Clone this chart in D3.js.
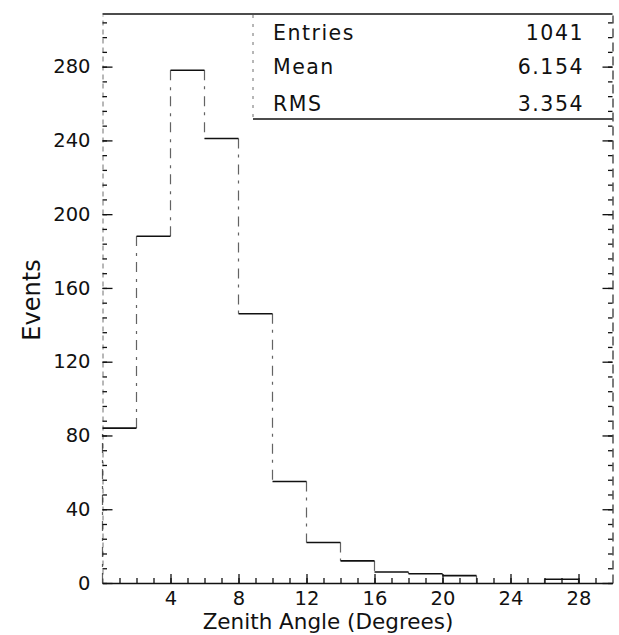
<!DOCTYPE html>
<html>
<head>
<meta charset="utf-8">
<script src="https://cdn.jsdelivr.net/npm/d3@7"></script>
<style>
  body { margin: 0; background: #fff; }
  svg { display: block; }
</style>
</head>
<body>
<svg id="chart" width="619" height="635"></svg>
<script>
// Zenith angle histogram: 2-degree bins from 0 to 30 degrees
const binEdges = [0, 2, 4, 6, 8, 10, 12, 14, 16, 18, 20, 22, 24, 26, 28, 30];
const counts   = [84, 188, 278, 241, 146, 55, 22, 12, 6, 5, 4, 0, 0, 2, 0];

const yMajorTicks = [0, 40, 80, 120, 160, 200, 240, 280];
const xMajorTicks = [4, 8, 12, 16, 20, 24, 28];

const statLabels = ["Entries", "Mean", "RMS"];
const statValues = ["1041", "6.154", "3.354"];

const xTitle = "Zenith Angle (Degrees)";
const yTitle = "Events";

const FONT = "DejaVu Sans, sans-serif";
const INK = "#111";

const svg = d3.select("#chart");

const x = d3.scaleLinear().domain([0, 30]).range([102.5, 612.5]);
const y = d3.scaleLinear().domain([0, 308]).range([583, 15]);

const [x0, x1] = x.range();
const [yB, yT] = y.range();

// minor tick positions derived from the axis domains
const yMinor = d3.range(0, 308, 8);
const xMinor = d3.range(1, 30, 1);

function styleAxis(g, size) {
  g.selectAll(".tick line").attr("stroke", INK).attr("stroke-width", 1.3);
  g.selectAll("text").attr("fill", INK).attr("font-family", FONT).attr("font-size", size || 19);
}

// left axis: inward ticks, labels
const leftMinor = svg.append("g").attr("transform", `translate(${x0},0)`)
  .call(d3.axisLeft(y).tickValues(yMinor).tickSize(-4.5).tickFormat(""));
leftMinor.select(".domain").remove();
styleAxis(leftMinor);

const left = svg.append("g").attr("transform", `translate(${x0},0)`)
  .call(d3.axisLeft(y).tickValues(yMajorTicks).tickSizeInner(-10).tickSizeOuter(0).tickPadding(12));
left.select(".domain").attr("stroke", INK).attr("stroke-width", 1).attr("stroke-dasharray", "5,4").attr("opacity", 0.6);
styleAxis(left, 19.5);

// right axis: inward ticks, no labels
const rightMinor = svg.append("g").attr("transform", `translate(${x1},0)`)
  .call(d3.axisRight(y).tickValues(yMinor).tickSize(-4.5).tickFormat(""));
rightMinor.select(".domain").remove();
styleAxis(rightMinor);

const right = svg.append("g").attr("transform", `translate(${x1},0)`)
  .call(d3.axisRight(y).tickValues(yMajorTicks).tickSizeInner(-10).tickSizeOuter(0).tickFormat(""));
right.select(".domain").attr("stroke", INK).attr("stroke-width", 1.1).attr("stroke-dasharray", "9,5");
styleAxis(right);

// bottom axis
const bottomMinor = svg.append("g").attr("transform", `translate(0,${yB})`)
  .call(d3.axisBottom(x).tickValues(xMinor).tickSize(-5).tickFormat(""));
bottomMinor.select(".domain").remove();
styleAxis(bottomMinor);

const bottom = svg.append("g").attr("transform", `translate(0,${yB})`)
  .call(d3.axisBottom(x).tickValues(xMajorTicks).tickSizeInner(-9).tickSizeOuter(0).tickPadding(8));
bottom.select(".domain").attr("stroke", INK).attr("stroke-width", 1.5);
styleAxis(bottom, 19.5);

// top frame line
svg.append("line")
  .attr("x1", x0).attr("x2", x1).attr("y1", yT - 1).attr("y2", yT - 1)
  .attr("stroke", INK).attr("stroke-width", 1.6);

// histogram steps: solid horizontal tops, broken vertical risers
const bins = counts.map((c, i) => ({ lo: binEdges[i], hi: binEdges[i + 1], c }));

svg.append("g").selectAll("line.top")
  .data(bins.filter(b => b.c > 0))
  .join("line")
  .attr("class", "top")
  .attr("x1", b => x(b.lo)).attr("x2", b => x(b.hi))
  .attr("y1", b => y(b.c)).attr("y2", b => y(b.c))
  .attr("stroke", INK).attr("stroke-width", 1.6);

const risers = binEdges.map((e, i) => ({
  e,
  a: i === 0 ? 0 : counts[i - 1],
  b: i < counts.length ? counts[i] : 0
})).filter(r => r.a !== r.b);

svg.append("g").selectAll("line.riser")
  .data(risers)
  .join("line")
  .attr("class", "riser")
  .attr("x1", r => x(r.e)).attr("x2", r => x(r.e))
  .attr("y1", r => y(r.a)).attr("y2", r => y(r.b))
  .attr("stroke", INK).attr("stroke-width", 1.2)
  .attr("stroke-dasharray", "10,6,3,7")
  .attr("opacity", 0.65);

// statistics box
const boxLeft = 253, boxBottom = 119;
svg.append("line")
  .attr("x1", boxLeft).attr("x2", boxLeft).attr("y1", yT).attr("y2", boxBottom)
  .attr("stroke", INK).attr("stroke-width", 1).attr("stroke-dasharray", "3,6").attr("opacity", 0.6);
svg.append("line")
  .attr("x1", boxLeft).attr("x2", x1).attr("y1", boxBottom).attr("y2", boxBottom)
  .attr("stroke", INK).attr("stroke-width", 1.4);

const statBaselines = [40, 74, 111];
const stats = svg.append("g").attr("font-family", FONT).attr("font-size", 20.5)
  .attr("fill", INK).attr("letter-spacing", 1.5);
stats.selectAll("text.lab").data(statLabels).join("text")
  .attr("class", "lab")
  .attr("x", 273).attr("y", (d, i) => statBaselines[i]).text(d => d);
stats.selectAll("text.val").data(statValues).join("text")
  .attr("class", "val")
  .attr("x", 584).attr("y", (d, i) => statBaselines[i])
  .attr("text-anchor", "end").text(d => d);

// axis titles
svg.append("text")
  .attr("x", 328).attr("y", 629)
  .attr("text-anchor", "middle")
  .attr("font-family", FONT).attr("font-size", 21.5).attr("fill", INK)
  .text(xTitle);

svg.append("text")
  .attr("transform", "translate(40,300) rotate(-90)")
  .attr("text-anchor", "middle")
  .attr("font-family", FONT).attr("font-size", 24).attr("fill", INK)
  .text(yTitle);
</script>
</body>
</html>
